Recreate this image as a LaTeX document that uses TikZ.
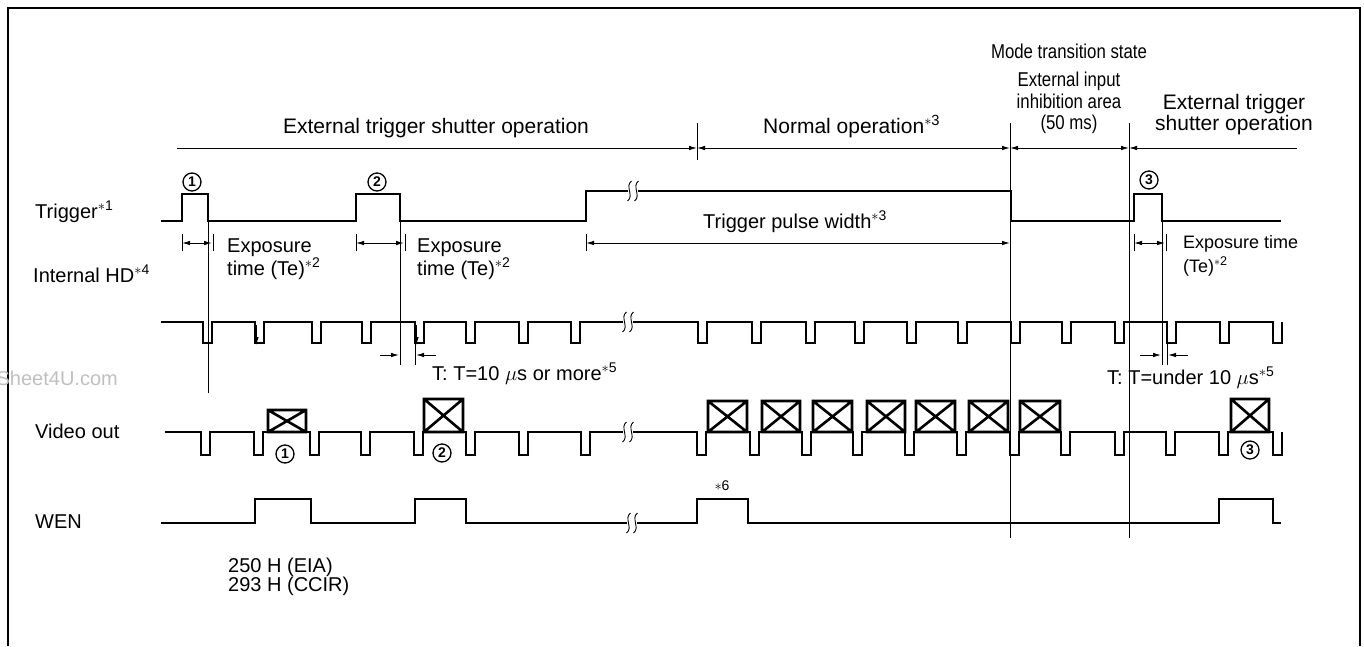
\documentclass[tikz,border=0pt]{standalone}
\usepackage{fontspec}
\setmainfont{Liberation Sans}
\newfontfamily\narrowfont[FakeStretch=0.84]{Liberation Sans}
\usetikzlibrary{arrows.meta}
\newcommand\nstar[1]{\textsuperscript{\(\ast\)#1}}
\newcommand\brkone[3]{%
  \draw[thinl] ({#1+2},{#2-#3}) .. controls ({#1-5},{#2-#3/2}) and ({#1+5},{#2+#3/2}) .. ({#1-2},{#2+#3});}
\newcommand\brkmark[3]{\brkone{#1-3.5}{#2}{#3}\brkone{#1+3.5}{#2}{#3}}
\newcommand\xbox[4]{\draw[xb] (#1,#2) rectangle (#3,#4) (#1,#2) -- (#3,#4) (#1,#4) -- (#3,#2);}
\begin{document}
\begin{tikzpicture}[x=1pt,y=-1pt,
  sig/.style={line width=2.2pt,line join=miter},
  thinl/.style={line width=0.9pt},
  xb/.style={line width=2.6pt},
  dimarr/.style={thinl,-{Latex[length=8pt,width=4.5pt]}},
  dimboth/.style={thinl,{Latex[length=8pt,width=4.5pt]}-{Latex[length=8pt,width=4.5pt]}},
  lbl/.style={font=\fontsize{20}{22}\selectfont,inner sep=0pt,anchor=base west},
  hdr/.style={font=\fontsize{21}{23}\selectfont,inner sep=0pt,anchor=base},
  narrow/.style={font=\narrowfont\fontsize{20}{22}\selectfont,inner sep=0pt,anchor=base},
  small/.style={font=\fontsize{18}{20}\selectfont,inner sep=0pt,anchor=base west},
  cnum/.style={circle,draw,line width=1.3pt,minimum size=18pt,inner sep=0pt,font=\fontsize{14}{14}\selectfont\bfseries},
]
\useasboundingbox (0,0) rectangle (1364,646);
% frame
\draw[line width=1.4pt] (8,646) -- (8,8) -- (1360,8) -- (1360,646);

% watermark
\node[lbl,anchor=base east,text=black!25] (wm) at (118,385) {Sheet4U.com};

% ---------- top operation bar ----------
\node[hdr] (ets1) at (436,133) {External trigger shutter operation};
\node[hdr,anchor=base west] (normop) at (763,133) {Normal operation\nstar{3}};
\node[narrow] (m1) at (1069,58) {Mode transition state};
\node[narrow] (m2) at (1069,86) {External input};
\node[narrow] (m3) at (1069,108) {inhibition area};
\node[narrow] (m4) at (1069,129) {(50 ms)};
\node[hdr] (ets2a) at (1234,109) {External trigger};
\node[hdr] (ets2b) at (1234,130) {shutter operation};

\coordinate (tA) at (177,148);
\coordinate (tB) at (697,148);
\coordinate (tC) at (1010,148);
\coordinate (tD) at (1129,148);
\coordinate (tE) at (1297,148);
\draw[dimarr] (tA) -- (tB);
\draw[dimboth] (tB) -- (tC);
\draw[dimboth] (tC) -- (tD);
\draw[thinl,{Latex[length=8pt,width=4.5pt]}-] (tD) -- (tE);
\draw[thinl] (697,123) -- (697,160);
\draw[thinl] (1010,123) -- (1010,538);
\draw[thinl] (1129,123) -- (1129,538);

% ---------- labels ----------
\node[lbl] (ltrig) at (35,218) {Trigger\nstar{1}};
\node[lbl] (lhd) at (33,282) {Internal HD\nstar{4}};
\node[lbl] (lvid) at (35,438) {Video out};
\node[lbl] (lwen) at (35,528) {WEN};

% ---------- Trigger ----------
\draw[sig] (161,221) -- (182,221) -- (182,194) -- (208,194) -- (208,221) -- (356,221) -- (356,194) -- (400,194) -- (400,221) -- (586,221) -- (586,191) -- (628,191);
\draw[sig] (638,191) -- (1011,191) -- (1011,221) -- (1134,221) -- (1134,194) -- (1162,194) -- (1162,221) -- (1281,221);
\brkmark{633}{191}{10}
\node[cnum] (c1t) at (192,182) {1};
\node[cnum] (c2t) at (377,182) {2};
\node[cnum] (c3t) at (1149,180) {3};

% exposure dimensions
\draw[thinl] (182,234) -- (182,251) (213,234) -- (213,251);
\draw[dimarr] (197,243) -- (182,243);
\draw[dimarr] (197,243) -- (212,243);
\draw[thinl] (356,234) -- (356,251) (405,234) -- (405,251);
\draw[dimarr] (380,243) -- (356,243);
\draw[dimarr] (380,243) -- (404,243);
\draw[thinl] (1134,234) -- (1134,251) (1166,234) -- (1166,251);
\draw[dimarr] (1150,243) -- (1134,243);
\draw[dimarr] (1150,243) -- (1165,243);
\draw[thinl] (586,234) -- (586,251);
\draw[dimboth] (586,243) -- (1010,243);

\node[lbl] (e1a) at (227,252) {Exposure};
\node[lbl] (e1b) at (227,275) {time (Te)\nstar{2}};
\node[lbl] (e2a) at (417,252) {Exposure};
\node[lbl] (e2b) at (417,275) {time (Te)\nstar{2}};
\node[small] (e3a) at (1183,248) {Exposure time};
\node[small] (e3b) at (1183,272) {(Te)\nstar{2}};
\node[lbl] (tpw) at (703,228) {Trigger pulse width\nstar{3}};

% long verticals
\draw[thinl] (208,221) -- (208,393);
\draw[thinl] (400,221) -- (400,365);
\draw[thinl] (1162,221) -- (1162,365);
\draw[thinl] (415,343) -- (415,365);
\draw[thinl] (1167,343) -- (1167,365);

% ---------- Internal HD ----------
\draw[sig] (161,322) foreach \a in {203,255,312,362,415,466,519,571}{ -- (\a,322) -- (\a,343) -- ({\a+9},343) -- ({\a+9},322)} -- (623,322);
\draw[sig] (633,322) foreach \a in {698,752,806,855,907,958,1011,1062,1115,1167,1220}{ -- (\a,322) -- (\a,343) -- ({\a+9},343) -- ({\a+9},322)} -- (1273,322) -- (1273,343) -- (1282,343) -- (1282,322);
\brkmark{628}{322}{10}
\draw[dimarr] (256.5,325) -- (256.5,345);
\draw[dimarr] (416.5,325) -- (416.5,345);

% T dimensions
\draw[dimarr] (380,355) -- (399,355);
\draw[dimarr] (436,355) -- (416,355);
\draw[dimarr] (1140,355) -- (1161,355);
\draw[dimarr] (1188,355) -- (1168,355);
\node[lbl] (t1) at (432,380) {T: T=10 \(\mu\)s or more\nstar{5}};
\node[lbl] (t2) at (1107,384) {T: T=under 10 \(\mu\)s\nstar{5}};

% ---------- Video out ----------
\draw[sig] (165,432) foreach \a in {201,254,310,361,414,466,519,581}{ -- (\a,432) -- (\a,455) -- ({\a+9},455) -- ({\a+9},432)} -- (623,432);
\draw[sig] (633,432) foreach \a in {697,750,802,853,905,957,1010,1061,1115,1166,1219}{ -- (\a,432) -- (\a,455) -- ({\a+9},455) -- ({\a+9},432)} -- (1273,432) -- (1273,455) -- (1282,455) -- (1282,432);
\brkmark{628}{432}{10}
\xbox{268}{410}{306}{432}
\xbox{424}{399}{463}{432}
\foreach \l/\r in {708/747,762/800,813/852,867/905,916/955,969/1008,1020/1060}{\xbox{\l}{401}{\r}{432}}
\xbox{1231}{399}{1269}{432}
\node[cnum] (c1v) at (285,454) {1};
\node[cnum] (c2v) at (442,453) {2};
\node[cnum] (c3v) at (1250,450) {3};

% ---------- WEN ----------
\draw[sig] (161,523) -- (255,523) -- (255,499) -- (311,499) -- (311,523) -- (415,523) -- (415,499) -- (466,499) -- (466,523) -- (627,523);
\draw[sig] (637,523) -- (697,523) -- (697,499) -- (748,499) -- (748,523) -- (1219,523) -- (1219,499) -- (1273,499) -- (1273,523) -- (1281,523);
\brkmark{632}{523}{10}
\node[font=\fontsize{14}{14}\selectfont,inner sep=0pt] (n6) at (722,486) {\(\ast\)6};

\node[lbl] (h1) at (228,572) {250 H (EIA)};
\node[lbl] (h2) at (228,591) {293 H (CCIR)};
\end{tikzpicture}
\end{document}
